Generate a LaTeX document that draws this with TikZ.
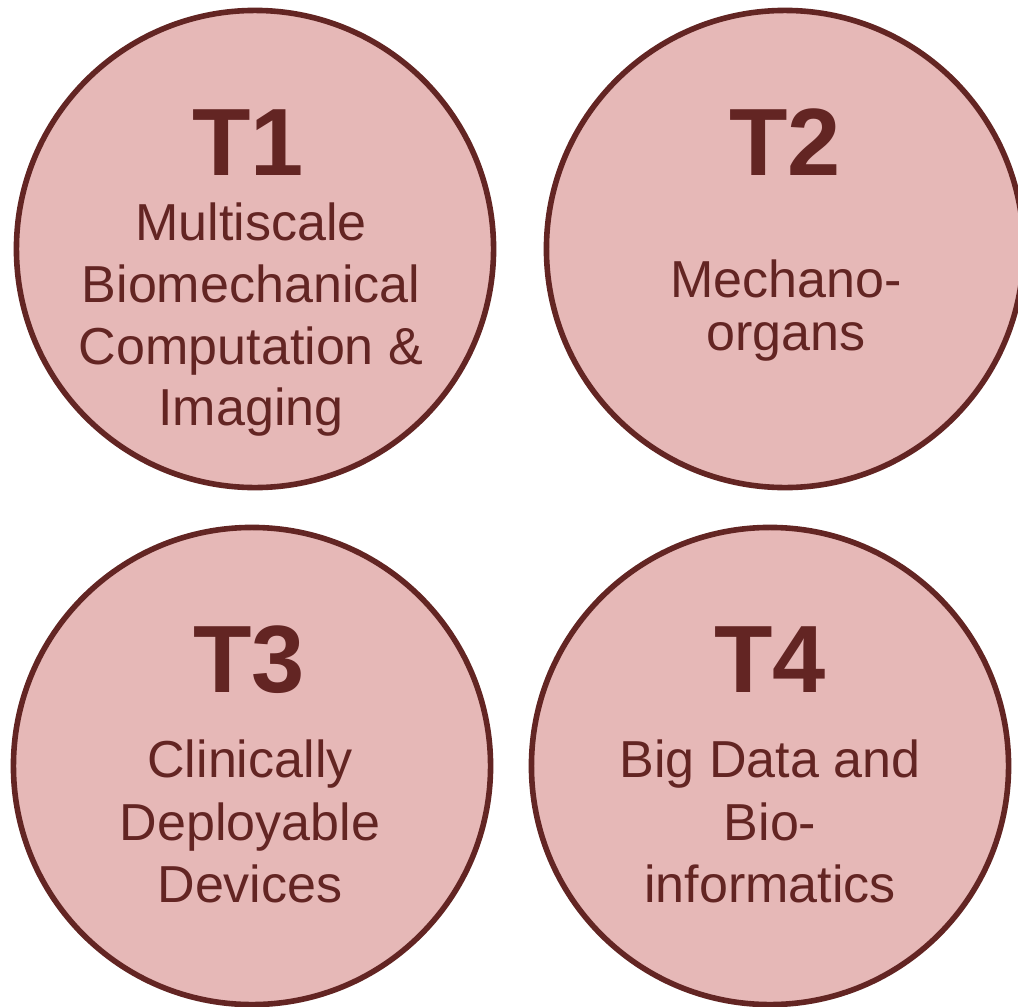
\documentclass[tikz,border=0pt]{standalone}
\usepackage{fontspec}
\setmainfont{Liberation Sans}
\usepackage{xcolor}
\definecolor{topicfill}{HTML}{E6B8B7}
\definecolor{topicline}{HTML}{632523}

\begin{document}
\begin{tikzpicture}[x=0.025cm,y=-0.025cm,
  topic/.style={circle,draw=topicline,fill=topicfill,line width=0.14cm,minimum size=11.925cm,inner sep=0pt},
  tnum/.style={anchor=base,inner sep=0pt,text=topicline,font=\fontsize{68}{68}\selectfont\bfseries},
  tline/.style={anchor=base,inner sep=0pt,text=topicline,font=\fontsize{37}{37}\selectfont}]
\useasboundingbox (0,0) rectangle (1018,1006);
% T1
\node[topic] (t1) at (255,249) {};
\node[tnum] (t1num) at (248,175) {T1};
\node[tline] (t1a) at (251,240) {Multiscale};
\node[tline] (t1b) at (251,302.5) {Biomechanical};
\node[tline] (t1c) at (251,364) {Computation \&};
\node[tline] (t1d) at (251,425) {Imaging};
% T2
\node[topic] (t2) at (785,249) {};
\node[tnum] (t2num) at (785,175) {T2};
\node[tline] (t2a) at (786,297) {Mechano-};
\node[tline] (t2b) at (786,350) {organs};
% T3
\node[topic] (t3) at (252,766) {};
\node[tnum] (t3num) at (249,692) {T3};
\node[tline] (t3a) at (250,777) {Clinically};
\node[tline] (t3b) at (250,840) {Deployable};
\node[tline] (t3c) at (250,902) {Devices};
% T4
\node[topic] (t4) at (770,766) {};
\node[tnum] (t4num) at (770,692) {T4};
\node[tline] (t4a) at (770,777) {Big Data and};
\node[tline] (t4b) at (770,840) {Bio-};
\node[tline] (t4c) at (770,902) {informatics};
\end{tikzpicture}
\end{document}
